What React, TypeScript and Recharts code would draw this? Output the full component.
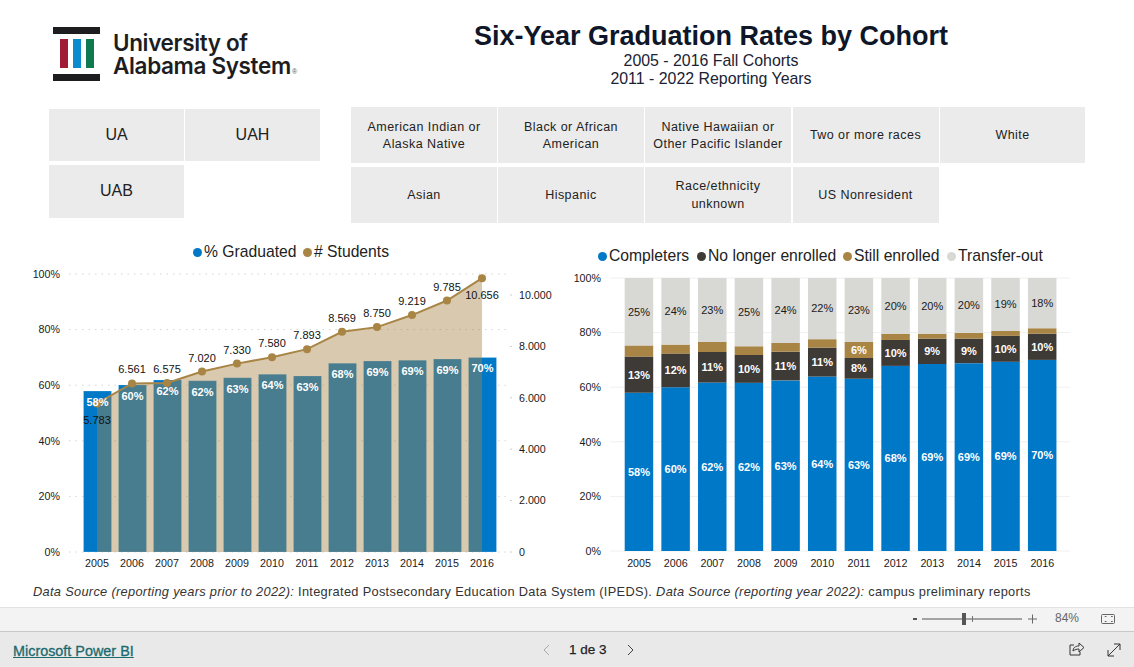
import { Area, Bar, BarChart, CartesianGrid, ComposedChart, LabelList, Line, XAxis, YAxis } from "recharts";

const years = ["2005", "2006", "2007", "2008", "2009", "2010", "2011", "2012", "2013", "2014", "2015", "2016"];
const graduated = [57.9, 60.1, 61.9, 61.6, 62.7, 63.9, 63.3, 67.9, 68.7, 69, 69.4, 70];
const students = [5783, 6561, 6575, 7020, 7330, 7580, 7893, 8569, 8750, 9219, 9785, 10656];

const completers = [58, 60, 61.7, 61.6, 62.5, 63.9, 63.1, 67.8, 68.5, 68.8, 69.3, 70];
const noLonger = [13.2, 12.3, 11.2, 10.2, 10.5, 10.6, 7.6, 9.5, 9.3, 9, 9.5, 9.6];
const stillEnrolled = [4.1, 3.3, 3.7, 3.2, 3.2, 3.1, 5.9, 2.3, 1.8, 2.1, 1.8, 2];
const transferOut = [24.7, 24.4, 23.4, 25, 23.8, 22.4, 23.4, 20.4, 20.4, 20.1, 19.4, 18.4];

const pctTicks = [0, 20, 40, 60, 80, 100];
const studentTicks = [0, 2000, 4000, 6000, 8000, 10000];

const BLUE = "#0078c8";
const GOLD = "#a88545";
const DARK = "#3e3a36";
const LIGHT = "#d8d8d4";
const INK = "#1a1a1a";

const leftData = years.map((year, i) => ({ year, graduated: graduated[i], students: students[i] }));
const rightData = years.map((year, i) => ({
  year,
  completers: completers[i],
  noLonger: noLonger[i],
  stillEnrolled: stillEnrolled[i],
  transferOut: transferOut[i]
}));

const withDots = (value: number) => String(value).replace(/\B(?=(\d{3})+$)/g, ".");
const pct = (value: number) => `${Math.round(value)}%`;

function StudentLabel({ x, y, index, value }: any) {
  // the first and last labels sit under their points, as in the report
  const below = index === 0 || index === years.length - 1;
  return (
    <text x={x} y={below ? y + 21 : y - 10} textAnchor="middle" fontSize={11} fill="#111">
      {withDots(value)}
    </text>
  );
}

function LegendItem({ x, y, color, label }: { x: number; y: number; color: string; label: string }) {
  return (
    <>
      <span style={{ position: "absolute", left: x - 4.5, top: y - 4.5, width: 9, height: 9, borderRadius: "50%", background: color }} />
      <span style={{ position: "absolute", left: x + 7, top: y - 10, fontSize: 15.7, lineHeight: "20px", color: "#222", whiteSpace: "nowrap" }}>{label}</span>
    </>
  );
}

function Slicer({ x, y, w, h, size = 12.5, lines }: { x: number; y: number; w: number; h: number; size?: number; lines: string[] }) {
  return (
    <div
      style={{
        position: "absolute",
        left: x,
        top: y,
        width: w,
        height: h,
        boxSizing: "border-box",
        paddingTop: size < 14 ? 2 : 0,
        background: "#ebebeb",
        display: "flex",
        flexDirection: "column",
        alignItems: "center",
        justifyContent: "center",
        fontSize: size,
        lineHeight: "17.5px",
        letterSpacing: size < 14 ? 0.45 : 0,
        color: "#222"
      }}
    >
      {lines.map((line) => (
        <span key={line} style={{ whiteSpace: "nowrap" }}>{line}</span>
      ))}
    </div>
  );
}

function Logo() {
  const wordmark = { position: "absolute", left: 113, fontFamily: "Inter", fontWeight: 600, fontSize: 22.5, lineHeight: "20px", letterSpacing: -0.35, color: "#1d1d1f", whiteSpace: "nowrap" } as const;
  return (
    <>
      <svg style={{ position: "absolute", left: 53, top: 27 }} width={48} height={54}>
        <rect x={0} y={0} width={47} height={7} fill="#1d1d1f" />
        <rect x={0} y={47} width={47} height={7} fill="#1d1d1f" />
        <rect x={7} y={12} width={8} height={29} fill="#a01c36" />
        <rect x={20} y={12} width={8} height={29} fill="#0b8ccd" />
        <rect x={33} y={12} width={8} height={29} fill="#0e7a4d" />
      </svg>
      <div style={{ ...wordmark, top: 33 }}>University of</div>
      <div style={{ ...wordmark, top: 56 }}>Alabama System</div>
      <span style={{ position: "absolute", left: 292, top: 68, fontSize: 7, lineHeight: "8px", color: "#555" }}>®</span>
    </>
  );
}

function PowerBiBar() {
  return (
    <>
      <div style={{ position: "absolute", left: 0, top: 607, width: 1134, height: 23, background: "#f3f3f3", borderTop: "1px solid #e2e2e2", borderBottom: "1px solid #c8c8c8" }} />
      <div style={{ position: "absolute", left: 0, top: 632, width: 1134, height: 35, background: "#e9e9e9" }} />
      <svg style={{ position: "absolute", left: 900, top: 608 }} width={234} height={24}>
        <rect x={13} y={10} width={4} height={2} fill="#555" />
        <rect x={22} y={10.5} width={100} height={1} fill="#555" />
        <rect x={62} y={5} width={4} height={12} fill="#555" />
        <rect x={72} y={8} width={1} height={6} fill="#777" />
        <path d="M128 11h9M132.500 6.500v9" stroke="#666" strokeWidth={1} fill="none" />
        <rect x={201.500} y={6.500} width={13} height={9} rx={1} fill="none" stroke="#666" />
        <path d="M205 9v-0.500h1.500M211 8.500h1.500V9M212.500 13v.5H211M206.500 13.500H205V13" stroke="#666" fill="none" />
      </svg>
      <span style={{ position: "absolute", left: 1055, top: 611, fontSize: 12, color: "#666" }}>84%</span>
      <span style={{ position: "absolute", left: 13, top: 643, fontSize: 14.4, color: "#1a6a6e", textDecoration: "underline", WebkitTextStroke: "0.3px #1a6a6e" }}>Microsoft Power BI</span>
      <span style={{ position: "absolute", left: 569, top: 642, fontSize: 13.5, color: "#222", WebkitTextStroke: "0.25px #222" }}>1 de 3</span>
      <svg style={{ position: "absolute", left: 535, top: 640 }} width={110} height={20}>
        <path d="M14 5l-5 5 5 5" stroke="#aaa" fill="none" />
        <path d="M93 5l5 5-5 5" stroke="#444" fill="none" />
      </svg>
      <svg style={{ position: "absolute", left: 1065, top: 640 }} width={60} height={20}>
        <path d="M9 5H5v10h10v-3M8 11c0-3 2-5 6-5V3l5 4.500-5 4.500V9c-2 0-4 .5-6 2z" stroke="#333" fill="none" />
        <path d="M43 16L55 4M49 4h6v6M43 10v6h6" stroke="#333" fill="none" />
      </svg>
    </>
  );
}

export default function App() {
  const tickStyle = { fontSize: 10.7, fill: INK };

  return (
    <div style={{ position: "absolute", left: 0, top: 0, width: 1134, height: 667, overflow: "hidden", background: "#fff", fontFamily: "'Liberation Sans', Arial, sans-serif" }}>
      <Logo />

      <div style={{ position: "absolute", left: 411, top: 20, width: 600, textAlign: "center", fontSize: 27, lineHeight: "32px", fontWeight: 700, color: "#0e1628" }}>
        Six-Year Graduation Rates by Cohort
      </div>
      <div style={{ position: "absolute", left: 411, top: 52, width: 600, textAlign: "center", fontSize: 15.9, lineHeight: "17.5px", color: "#1a2233" }}>
        2005 - 2016 Fall Cohorts
        <br />
        2011 - 2022 Reporting Years
      </div>

      <Slicer x={49} y={109} w={135} h={52} size={16} lines={["UA"]} />
      <Slicer x={185} y={109} w={135} h={52} size={16} lines={["UAH"]} />
      <Slicer x={49} y={164.500} w={135} h={53} size={16} lines={["UAB"]} />

      <Slicer x={351} y={107} w={146} h={56} lines={["American Indian or", "Alaska Native"]} />
      <Slicer x={498} y={107} w={146} h={56} lines={["Black or African", "American"]} />
      <Slicer x={645} y={107} w={146} h={56} lines={["Native Hawaiian or", "Other Pacific Islander"]} />
      <Slicer x={792.500} y={107} w={146} h={56} lines={["Two or more races"]} />
      <Slicer x={940} y={107} w={145} h={56} lines={["White"]} />
      <Slicer x={351} y={166.500} w={146} h={56.500} lines={["Asian"]} />
      <Slicer x={498} y={166.500} w={146} h={56.500} lines={["Hispanic"]} />
      <Slicer x={645} y={166.500} w={146} h={56.500} lines={["Race/ethnicity", "unknown"]} />
      <Slicer x={792.500} y={166.500} w={146} h={56.500} lines={["US Nonresident"]} />

      <LegendItem x={197} y={252} color={BLUE} label="% Graduated" />
      <LegendItem x={307} y={252} color={GOLD} label="# Students" />

      <LegendItem x={602} y={256} color={BLUE} label="Completers" />
      <LegendItem x={701} y={256} color={DARK} label="No longer enrolled" />
      <LegendItem x={847} y={256} color={GOLD} label="Still enrolled" />
      <LegendItem x={951} y={256} color={LIGHT} label="Transfer-out" />

      <div style={{ position: "absolute", left: 0, top: 240 }}>
        <ComposedChart width={560} height={340} data={leftData} margin={{ top: 34, right: 0, bottom: 0, left: 0 }} barCategoryGap={3.500}>
          <CartesianGrid yAxisId="pct" horizontal vertical={false} stroke="#d4d4d4" strokeDasharray="1.5 5" />
          <XAxis dataKey="year" interval={0} axisLine={false} tickLine={false} height={28} tickMargin={1} padding={{ left: 10.5, right: 10.5 }} tick={tickStyle} />
          <YAxis yAxisId="pct" domain={[0, 100]} ticks={pctTicks} width={69} axisLine={false} tickLine={false} tickMargin={3} tickFormatter={(v: number) => `${v}%`} tick={tickStyle} />
          <YAxis yAxisId="students" orientation="right" domain={[0, 10817]} ticks={studentTicks} width={50} axisLine={false} tickSize={2} tickLine={{ stroke: "#ccc" }} tickMargin={7} tickFormatter={withDots} tick={tickStyle} />
          <Bar yAxisId="pct" dataKey="graduated" fill={BLUE} stroke="rgba(255,255,255,0.2)" barSize={28} isAnimationActive={false}>
            <LabelList dataKey="graduated" position="insideTop" offset={7} formatter={pct} fill="#fff" fontSize={11} fontWeight={700} />
          </Bar>
          <Area yAxisId="students" zIndex={350} dataKey="students" type="linear" stroke="none" fill={GOLD} fillOpacity={0.43} dot={false} activeDot={false} isAnimationActive={false} />
          <Line yAxisId="students" dataKey="students" type="linear" stroke={GOLD} strokeWidth={2} dot={{ r: 4, fill: GOLD, stroke: GOLD, strokeWidth: 0 }} isAnimationActive={false}>
            <LabelList dataKey="students" content={StudentLabel} />
          </Line>
        </ComposedChart>
      </div>

      <div style={{ position: "absolute", left: 560, top: 240 }}>
        <BarChart width={510} height={340} data={rightData} margin={{ top: 38, right: 0, bottom: 0, left: 0 }} barSize={28.500} barCategoryGap={4}>
          <CartesianGrid horizontal vertical={false} stroke="#f0f0f0" />
          <XAxis dataKey="year" interval={0} axisLine={false} tickLine={false} height={29} tickMargin={2} padding={{ left: 10.7, right: 9.400 }} tick={tickStyle} />
          <YAxis domain={[0, 100]} ticks={pctTicks} width={50} axisLine={false} tickLine={false} tickMargin={3} tickFormatter={(v: number) => `${v}%`} tick={tickStyle} />
          <Bar dataKey="completers" stackId="outcome" fill={BLUE} isAnimationActive={false}>
            <LabelList dataKey="completers" position="center" formatter={pct} fill="#fff" fontSize={11} fontWeight={700} />
          </Bar>
          <Bar dataKey="noLonger" stackId="outcome" fill={DARK} isAnimationActive={false}>
            <LabelList dataKey="noLonger" position="center" formatter={pct} fill="#fff" fontSize={11} fontWeight={700} />
          </Bar>
          <Bar dataKey="stillEnrolled" stackId="outcome" fill={GOLD} isAnimationActive={false}>
            <LabelList dataKey="stillEnrolled" position="center" formatter={(v: number) => (v >= 5 ? pct(v) : "")} fill="#fff" fontSize={11} fontWeight={700} />
          </Bar>
          <Bar dataKey="transferOut" stackId="outcome" fill={LIGHT} isAnimationActive={false}>
            <LabelList dataKey="transferOut" position="center" formatter={pct} fill="#1a1a1a" fontSize={11} />
          </Bar>
        </BarChart>
      </div>

      <div style={{ position: "absolute", left: 33, top: 584, fontSize: 12.8, lineHeight: "15px", letterSpacing: 0.31, color: "#333", whiteSpace: "nowrap" }}>
        <i>Data Source (reporting years prior to 2022):</i> Integrated Postsecondary Education Data System (IPEDS). <i>Data Source (reporting year 2022):</i> campus preliminary reports
      </div>

      <PowerBiBar />
    </div>
  );
}
